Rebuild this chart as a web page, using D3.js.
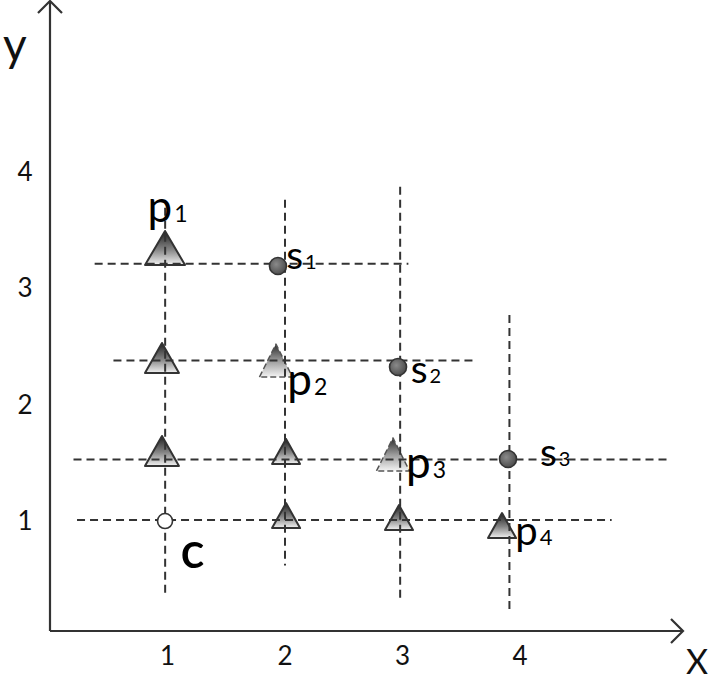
<!DOCTYPE html>
<html>
<head>
<meta charset="utf-8">
<script src="https://cdn.jsdelivr.net/npm/d3@7"></script>
<style>
  body { margin: 0; background: #fff; }
  svg { display: block; font-family: Lato, "Open Sans", sans-serif; }
</style>
</head>
<body>
<svg id="chart" width="711" height="682"></svg>
<script>
// tick labels on both axes
const xTicks = [1, 2, 3, 4];
const yTicks = [1, 2, 3, 4];

// dashed guide lines, in data units
const vLineX = [0.98, 2.0, 2.98, 3.91];
const vLineTop = [3.68, 3.75, 3.86, 2.76];
const vLineBottom = [0.36, 0.61, 0.31, 0.21];

const hLineY = [3.20, 2.37, 1.52, 1.00];
const hLineStart = [0.38, 0.54, 0.20, 0.23];
const hLineEnd = [3.05, 3.62, 5.28, 4.78];

// triangles: centre x, base y, kind
const triX = [0.979, 0.953, 1.923, 0.953, 2.009, 2.919, 2.009, 2.970, 3.847];
const triY = [3.189, 2.262, 2.227, 1.464, 1.481, 1.421, 0.931, 0.914, 0.845];
const triKind = ["lg", "md", "fd", "md", "sm", "fd", "sm", "sm", "sm"];

// circles: s1, s2, s3 and c
const dotX = [1.940, 2.962, 3.898, 0.979];
const dotY = [3.180, 2.313, 1.524, 0.991];
const dotKind = ["s", "s", "s", "c"];

// point labels (main letter + subscript), left / baseline in data units
const labelMain = ["p", "s", "p", "s", "p", "s", "p", "c"];
const labelSub = ["1", "1", "2", "2", "3", "3", "4", ""];
const labelX = [0.83, 2.01, 2.02, 3.07, 3.03, 4.17, 3.96, 1.11];
const labelY = [3.558, 3.152, 2.073, 2.176, 1.361, 1.464, 0.785, 0.588];

// ---- styles
const triSize = {
    lg: { w: 40, h: 34 },
    md: { w: 34, h: 30 },
    sm: { w: 28, h: 25 },
    fd: { w: 33, h: 33 }
};
const dotR = { s: 8.5, c: 7.5 };
const labelFont = { p: 44, s: 39, c: 50 };
const subFont = { p: 23, s: 20, c: 0 };
const ink = "#333";

const svg = d3.select("#chart");
const originX = 50, originY = 631;

const x = d3.scaleLinear().domain([0, 5]).range([50, 637.5]);
const y = d3.scaleLinear().domain([0, 5]).range([636.5, 54]);

// gradients
const defs = svg.append("defs");
const grad = defs.append("linearGradient")
    .attr("id", "triGrad")
    .attr("x1", 0).attr("y1", 0).attr("x2", 0).attr("y2", 1);
grad.append("stop").attr("offset", "0%").attr("stop-color", "#1e1e1e");
grad.append("stop").attr("offset", "55%").attr("stop-color", "#858585");
grad.append("stop").attr("offset", "100%").attr("stop-color", "#f2f2f2");

const gradFade = defs.append("linearGradient")
    .attr("id", "triGradFade")
    .attr("x1", 0).attr("y1", 0).attr("x2", 0).attr("y2", 1);
gradFade.append("stop").attr("offset", "0%").attr("stop-color", "#2a2a2a");
gradFade.append("stop").attr("offset", "50%").attr("stop-color", "#9a9a9a");
gradFade.append("stop").attr("offset", "100%").attr("stop-color", "#f4f4f4");

const dotGrad = defs.append("radialGradient")
    .attr("id", "dotGrad")
    .attr("cx", "40%").attr("cy", "40%").attr("r", "70%");
dotGrad.append("stop").attr("offset", "0%").attr("stop-color", "#8a8a8a");
dotGrad.append("stop").attr("offset", "100%").attr("stop-color", "#444");

// ---- axes with arrow heads
const axes = svg.append("g")
    .attr("stroke", ink)
    .attr("stroke-width", 2.2)
    .attr("fill", "none");
axes.append("line")
    .attr("x1", originX).attr("y1", originY)
    .attr("x2", originX).attr("y2", 1);
axes.append("path")
    .attr("d", "M" + (originX - 12) + ",13L" + originX + ",1L" + (originX + 12) + ",13");
axes.append("line")
    .attr("x1", originX).attr("y1", originY)
    .attr("x2", 683).attr("y2", originY);
axes.append("path")
    .attr("d", "M671," + (originY - 12) + "L683," + originY + "L671," + (originY + 12));

svg.append("text")
    .attr("x", 3).attr("y", 61)
    .attr("font-size", 46)
    .attr("fill", "#111")
    .text("y");
svg.append("text")
    .attr("x", 686).attr("y", 674)
    .attr("font-size", 34)
    .attr("fill", "#111")
    .text("X");

// tick labels
svg.append("g").selectAll("text")
    .data(xTicks)
    .enter()
    .append("text")
    .attr("x", function (d) { return x(d) })
    .attr("y", 665)
    .attr("text-anchor", "middle")
    .attr("font-size", 26)
    .attr("fill", "#111")
    .text(function (d) { return d });

svg.append("g").selectAll("text")
    .data(yTicks)
    .enter()
    .append("text")
    .attr("x", 25)
    .attr("y", function (d) { return y(d) + 10 })
    .attr("text-anchor", "middle")
    .attr("font-size", 26)
    .attr("fill", "#111")
    .text(function (d) { return d });

// ---- triangles
const tris = triX.map(function (v, i) { return { x: v, y: triY[i], kind: triKind[i] } });

svg.append("g").selectAll("path")
    .data(tris)
    .enter()
    .append("path")
    .attr("d", function (d) {
        const s = triSize[d.kind];
        const cx = x(d.x), by = y(d.y);
        return "M" + (cx - s.w / 2) + "," + by + "L" + cx + "," + (by - s.h) + "L" + (cx + s.w / 2) + "," + by + "Z";
    })
    .attr("fill", function (d) { return d.kind === "fd" ? "url(#triGradFade)" : "url(#triGrad)" })
    .attr("stroke", function (d) { return d.kind === "fd" ? "#555" : ink })
    .attr("stroke-width", function (d) { return d.kind === "fd" ? 1.5 : 2 })
    .attr("stroke-dasharray", function (d) { return d.kind === "fd" ? "6,3" : null })
    .attr("stroke-linejoin", "round");

// ---- dashed guide lines
const guides = svg.append("g")
    .attr("stroke", ink)
    .attr("stroke-width", 2)
    .attr("stroke-dasharray", "8,5");

guides.selectAll(".v")
    .data(vLineX)
    .enter()
    .append("line")
    .attr("class", "v")
    .attr("x1", function (d) { return x(d) })
    .attr("x2", function (d) { return x(d) })
    .attr("y1", function (d, i) { return y(vLineTop[i]) })
    .attr("y2", function (d, i) { return y(vLineBottom[i]) });

guides.selectAll(".h")
    .data(hLineY)
    .enter()
    .append("line")
    .attr("class", "h")
    .attr("y1", function (d) { return y(d) })
    .attr("y2", function (d) { return y(d) })
    .attr("x1", function (d, i) { return x(hLineStart[i]) })
    .attr("x2", function (d, i) { return x(hLineEnd[i]) });

// ---- circles
const dots = dotX.map(function (v, i) { return { x: v, y: dotY[i], kind: dotKind[i] } });

svg.append("g").selectAll("circle")
    .data(dots)
    .enter()
    .append("circle")
    .attr("cx", function (d) { return x(d.x) })
    .attr("cy", function (d) { return y(d.y) })
    .attr("r", function (d) { return dotR[d.kind] })
    .attr("fill", function (d) { return d.kind === "c" ? "#fff" : "url(#dotGrad)" })
    .attr("stroke", ink)
    .attr("stroke-width", 1.6);

// ---- point labels
const labels = labelMain.map(function (v, i) {
    return { main: v, sub: labelSub[i], x: labelX[i], y: labelY[i] };
});

const lab = svg.append("g").selectAll("text")
    .data(labels)
    .enter()
    .append("text")
    .attr("x", function (d) { return x(d.x) })
    .attr("y", function (d) { return y(d.y) })
    .attr("fill", "#000");

lab.append("tspan")
    .attr("font-size", function (d, i) { return i === 6 ? 40 : labelFont[d.main] })
    .attr("font-weight", function (d) { return d.main === "c" ? 600 : 400 })
    .text(function (d) { return d.main });

lab.append("tspan")
    .attr("dx", 2)
    .attr("font-size", function (d, i) { return i === 6 ? 22 : subFont[d.main] })
    .text(function (d) { return d.sub });
</script>
</body>
</html>
